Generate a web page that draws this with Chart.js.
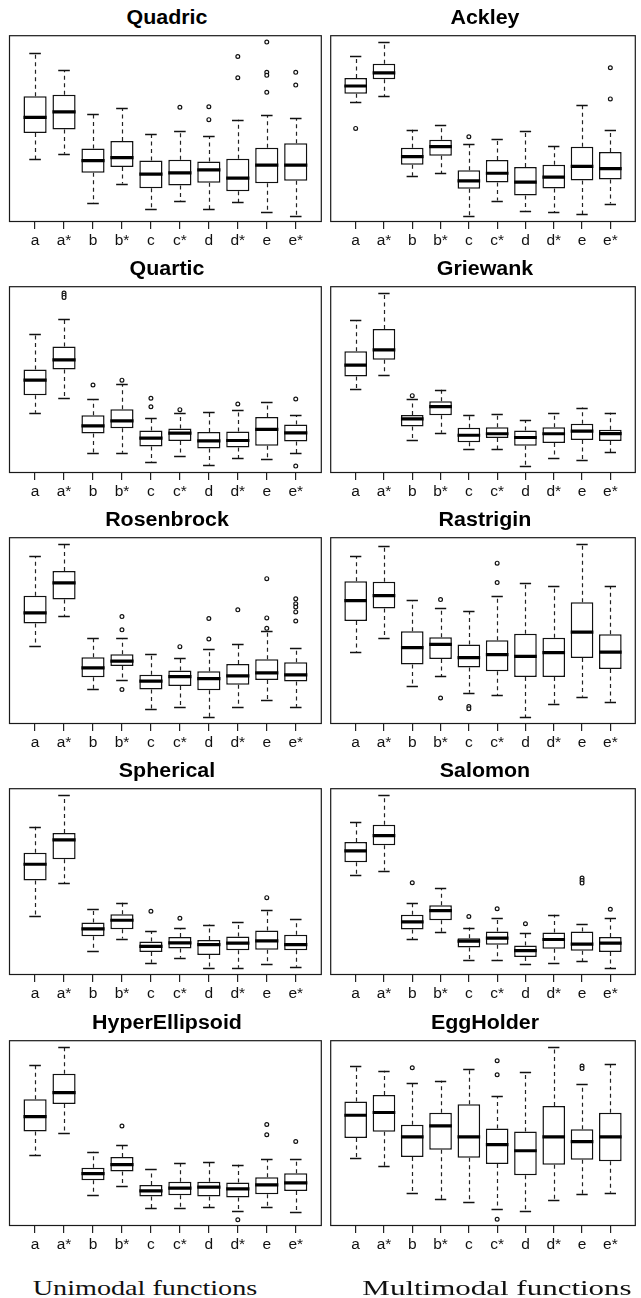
<!DOCTYPE html>
<html><head><meta charset="utf-8">
<script src="https://cdn.jsdelivr.net/npm/chart.js@4"></script>
<style>
html,body{margin:0;padding:0;background:#fff;}
body{width:641px;height:1298px;position:relative;overflow:hidden;}
canvas{position:absolute;}
.ttl{position:absolute;font:bold 20px "Liberation Sans",Arial,sans-serif;white-space:nowrap;line-height:20px;color:#000;}
.foot{position:absolute;font:22px "Liberation Serif","Times New Roman",serif;white-space:nowrap;line-height:22px;color:#111;}
</style></head><body>
<script>
const categories = ['a','a*','b','b*','c','c*','d','d*','e','e*'];
const titles = ['Quadric','Ackley','Quartic','Griewank','Rosenbrock','Rastrigin','Spherical','Salomon','HyperEllipsoid','EggHolder'];
const footers = ['Unimodal functions','Multimodal functions'];

// each entry: [lower whisker, Q1, median, Q3, upper whisker]
const quadricStats = [[33.5,47.7,56.0,67.3,90.7],[36.5,49.5,58.9,68.1,81.3],[10.0,26.3,32.9,39.3,58.0],[20.6,29.5,34.5,43.4,60.9],[6.8,18.1,25.6,32.9,47.2],[11.2,19.6,26.3,33.3,48.9],[6.8,21.0,27.9,32.4,46.1],[10.5,16.4,23.5,33.8,54.8],[5.5,20.8,30.4,39.7,57.1],[3.4,22.1,30.4,42.2,55.5]];
const quadricOutliers = [[],[],[],[],[],[61.4],[61.7,54.8],[88.6,77.2],[96.3,80.1,78.5,69.4],[80.1,73.3]];

const ackleyStats = [[64.1,68.6,72.8,77.1,88.8],[67.5,76.4,79.8,84.7,96.1],[24.7,30.7,35.0,39.8,49.4],[26.1,35.5,40.3,44.0,52.0],[3.4,17.8,22.0,27.7,41.7],[11.5,21.1,26.1,33.2,44.4],[6.0,14.2,21.3,29.5,48.5],[5.3,17.9,24.0,30.6,40.5],[4.1,22.2,29.8,40.3,62.9],[9.9,22.7,28.6,37.5,49.0]];
const ackleyOutliers = [[50.1],[],[],[],[45.6],[],[],[],[],[82.6,65.9]];

const quarticStats = [[32.3,41.6,49.7,55.4,74.6],[40.0,55.4,60.6,67.7,82.2],[10.5,21.1,25.2,30.9,39.6],[10.8,24.0,27.9,34.1,47.4],[5.9,14.2,18.7,22.7,29.3],[9.1,17.1,21.3,23.8,32.3],[4.4,13.1,17.2,22.0,32.9],[8.0,13.7,17.4,22.2,33.7],[7.3,14.6,23.4,30.0,38.0],[10.5,16.9,21.5,25.9,31.1]];
const quarticOutliers = [[],[96.3,95.2,94.0],[47.1],[49.7],[40.0,35.5],[33.9],[],[36.9],[],[39.6,3.7]];

const griewankStats = [[45.1,51.7,57.7,65.2,81.7],[52.6,60.6,65.9,77.1,96.3],[17.4,24.9,29.0,31.1,39.4],[21.5,30.9,35.5,38.4,44.6],[12.6,16.5,20.2,24.2,31.3],[12.6,18.8,21.0,24.5,31.8],[3.7,14.6,19.0,22.7,28.2],[7.8,16.0,21.0,24.5,32.3],[6.9,17.6,22.4,26.3,35.0],[11.0,17.1,21.1,23.1,32.3]];
const griewankOutliers = [[],[],[41.4],[],[],[],[],[],[],[]];

const rosenbrockStats = [[41.7,53.8,59.5,68.6,89.9],[57.7,66.6,75.5,81.9,96.3],[18.8,25.0,30.0,35.7,46.2],[23.3,31.1,33.7,37.3,45.8],[8.0,18.5,22.9,26.3,37.7],[9.2,20.4,25.4,28.6,35.5],[3.6,18.1,24.3,28.2,40.1],[9.2,21.0,25.8,32.1,43.0],[13.1,23.6,27.4,34.6,49.6],[9.2,22.7,26.3,33.0,40.7]];
const rosenbrockOutliers = [[],[],[],[57.5,50.4,18.5],[],[41.4],[56.5,45.5],[61.1],[77.8,56.8,51.2],[67.0,64.4,62.6,60.0,55.1]];

const rastriginStats = [[38.7,55.1,66.1,76.4,89.9],[46.2,61.8,68.7,76.2,95.2],[20.1,31.8,40.9,49.7,66.3],[25.6,34.8,42.6,46.5,62.2],[16.7,30.2,35.5,42.5,60.4],[15.3,28.2,37.1,44.8,68.7],[3.6,25.2,36.2,48.3,75.5],[10.8,25.2,38.2,46.2,74.1],[14.6,35.3,49.2,65.2,96.3],[11.9,29.5,38.5,48.0,73.9]];
const rastriginOutliers = [[],[],[],[66.6,13.9],[9.4,8.2],[86.1,75.7],[],[],[],[]];

const sphericalStats = [[31.8,50.6,59.3,65.4,79.4],[49.0,62.0,72.3,76.0,96.1],[12.8,20.8,24.7,28.1,35.5],[19.5,24.5,29.3,32.5,38.7],[6.6,12.3,15.3,17.9,23.4],[9.2,14.2,17.2,20.4,25.0],[3.6,10.7,16.3,18.8,27.0],[3.9,13.3,17.1,20.6,28.2],[5.9,13.5,18.3,23.8,34.8],[4.4,13.3,16.3,21.5,30.0]];
const sphericalOutliers = [[],[],[],[],[34.1],[30.4],[],[],[41.4],[]];

const salomonStats = [[53.8,60.4,66.4,71.2,81.7],[55.9,69.4,74.6,80.5,96.1],[19.2,24.3,28.4,32.3,38.5],[23.1,29.3,34.5,37.3,46.5],[8.0,14.7,18.1,19.7,25.4],[8.0,16.2,19.7,23.3,30.4],[5.9,9.6,13.1,15.8,22.4],[6.6,14.0,19.0,22.7,32.3],[7.5,13.0,16.5,23.3,27.2],[3.6,12.3,17.1,20.4,30.4]];
const salomonOutliers = [[],[],[49.4],[],[31.3],[35.5],[27.4],[],[51.9,50.6,49.2],[35.2]];

const hyperEllipsoidStats = [[38.4,50.9,58.9,68.2,86.6],[50.0,65.7,71.8,82.0,96.4],[16.8,24.6,28.2,31.3,40.0],[21.6,29.3,33.0,37.1,43.4],[9.5,15.9,18.9,22.1,30.7],[9.5,16.6,20.4,23.8,33.8],[10.2,15.9,20.9,23.8,34.5],[7.9,15.4,20.0,23.4,32.9],[10.0,17.1,22.1,26.3,36.1],[7.5,18.8,23.2,28.4,36.1]];
const hyperEllipsoidOutliers = [[],[],[],[53.8],[],[],[],[3.4],[54.6,49.1],[45.5]];

const eggHolderStats = [[36.4,47.3,59.6,67.0,86.1],[32.1,50.7,61.1,70.5,83.6],[17.5,37.1,48.0,54.5,76.8],[14.5,41.1,53.9,60.9,78.2],[13.0,36.8,48.0,65.5,84.3],[8.9,33.4,43.8,52.5,70.0],[8.0,27.3,40.5,50.9,82.7],[13.9,32.9,48.0,64.6,96.4],[17.1,35.7,45.4,52.1,76.3],[17.9,34.8,48.0,60.9,87.1]];
const eggHolderOutliers = [[],[],[85.2],[],[],[88.9,81.4,3.6],[],[],[86.1,84.8],[]];

const panelStats = [quadricStats, ackleyStats, quarticStats, griewankStats, rosenbrockStats, rastriginStats, sphericalStats, salomonStats, hyperEllipsoidStats, eggHolderStats];
const panelOutliers = [quadricOutliers, ackleyOutliers, quarticOutliers, griewankOutliers, rosenbrockOutliers, rastriginOutliers, sphericalOutliers, salomonOutliers, hyperEllipsoidOutliers, eggHolderOutliers];

// ---- layout (pixels) ----
const frameTops = [33, 284, 535, 786, 1038];
const frameHeights = [189, 189, 189, 189, 188];
const colFrames = [{left: 9, right: 324, cLeft: 0, cWidth: 327}, {left: 328, right: 641, cLeft: 325, cWidth: 316}];
const AXIS_H = 40, PAD_T = 3;

function makeBoxPlugin(stats) {
  return {
    id: 'boxplotParts',
    afterDatasetsDraw(chart) {
      const {ctx, chartArea: a, scales: {x, y}} = chart;
      ctx.save();
      ctx.beginPath(); ctx.rect(a.left, a.top, a.width, a.height); ctx.clip();
      stats.forEach((s, i) => {
        const cx = x.getPixelForValue(i + 1);
        const half = x.getPixelForValue(i + 1.4) - cx;
        const st = half / 2;
        const lo = y.getPixelForValue(s[0]), q1 = y.getPixelForValue(s[1]),
              md = y.getPixelForValue(s[2]), q3 = y.getPixelForValue(s[3]),
              hi = y.getPixelForValue(s[4]);
        const X = Math.round(cx) + 0.5;
        ctx.strokeStyle = '#222'; ctx.lineWidth = 1.2;
        ctx.setLineDash([4, 3.5]);
        ctx.beginPath();
        ctx.moveTo(X, q3); ctx.lineTo(X, hi);
        ctx.moveTo(X, q1); ctx.lineTo(X, lo);
        ctx.stroke();
        ctx.setLineDash([]);
        ctx.strokeStyle = '#111'; ctx.lineWidth = 1.4;
        ctx.beginPath();
        ctx.moveTo(cx - st, Math.round(hi) + 0.5); ctx.lineTo(cx + st, Math.round(hi) + 0.5);
        ctx.moveTo(cx - st, Math.round(lo) + 0.5); ctx.lineTo(cx + st, Math.round(lo) + 0.5);
        ctx.stroke();
        ctx.strokeStyle = '#000'; ctx.lineWidth = 3.2;
        ctx.beginPath();
        ctx.moveTo(cx - half, md); ctx.lineTo(cx + half, md);
        ctx.stroke();
      });
      ctx.restore();
    },
    afterDraw(chart) {
      const {ctx, chartArea: a} = chart;
      ctx.save();
      ctx.strokeStyle = '#1a1a1a'; ctx.lineWidth = 1.2;
      ctx.strokeRect(a.left + 0.5, a.top + 0.5, a.width - 1, a.height - 1);
      ctx.restore();
    }
  };
}

panelStats.forEach((stats, p) => {
  const row = Math.floor(p / 2), col = p % 2;
  const cf = colFrames[col];
  const T = frameTops[row], H = frameHeights[row];
  const cv = document.createElement('canvas');
  cv.width = cf.cWidth; cv.height = PAD_T + H + AXIS_H;
  cv.style.left = cf.cLeft + 'px'; cv.style.top = (T - PAD_T) + 'px';
  cv.style.width = cf.cWidth + 'px'; cv.style.height = (PAD_T + H + AXIS_H) + 'px';
  document.body.appendChild(cv);

  const outPts = [];
  panelOutliers[p].forEach((arr, i) => arr.forEach(v => outPts.push({x: i + 1, y: v})));

  new Chart(cv, {
    type: 'bar',
    data: {
      datasets: [
        {type: 'bar', data: stats.map((s, i) => ({x: i + 1, y: [s[1], s[3]]})),
         backgroundColor: '#fff', borderColor: '#111', borderWidth: 1.5, borderSkipped: false,
         categoryPercentage: 1, barPercentage: 0.8, order: 2},
        {type: 'scatter', data: outPts, pointRadius: 1.9, pointBorderWidth: 1.2,
         pointBackgroundColor: '#fff', pointBorderColor: '#111', order: 1}
      ]
    },
    options: {
      responsive: false, animation: false, events: [], devicePixelRatio: 1,
      layout: {padding: {left: cf.left - cf.cLeft, right: cf.cLeft + cf.cWidth - cf.right, top: PAD_T, bottom: 0}},
      plugins: {legend: {display: false}, tooltip: {enabled: false}, title: {display: false}},
      scales: {
        x: {
          type: 'linear', min: 0.1, max: 10.9, offset: false,
          afterBuildTicks: s => { s.ticks = categories.map((c, i) => ({value: i + 1})); },
          afterFit: s => { s.height = AXIS_H; },
          grid: {display: true, drawOnChartArea: false, drawTicks: true, tickLength: 7, color: '#222', lineWidth: 1.2, offset: false},
          border: {display: false},
          ticks: {autoSkip: false, maxRotation: 0, minRotation: 0, padding: 2, color: '#111',
                  font: {family: '"Liberation Sans", Arial, sans-serif', size: 15.5},
                  callback: v => categories[Math.round(v) - 1]}
        },
        y: {type: 'linear', min: 0, max: 100, display: false}
      }
    },
    plugins: [makeBoxPlugin(stats)]
  });

  const t = document.createElement('div');
  t.className = 'ttl';
  t.textContent = titles[p];
  t.style.left = ((cf.left + cf.right) / 2) + 'px';
  t.style.top = (T - 26) + 'px';
  t.style.transform = 'translateX(-50%) scaleX(1.07)';
  document.body.appendChild(t);
});

const footCenters = [145, 497], footWidths = [224, 269];
footers.forEach((txt, i) => {
  const f = document.createElement('div');
  f.className = 'foot';
  f.textContent = txt;
  f.style.left = footCenters[i] + 'px';
  f.style.top = '1277px';
  document.body.appendChild(f);
  const k = footWidths[i] / f.offsetWidth;
  f.style.transform = 'translateX(-50%) scaleX(' + k.toFixed(3) + ')';
});
</script>
</body></html>
